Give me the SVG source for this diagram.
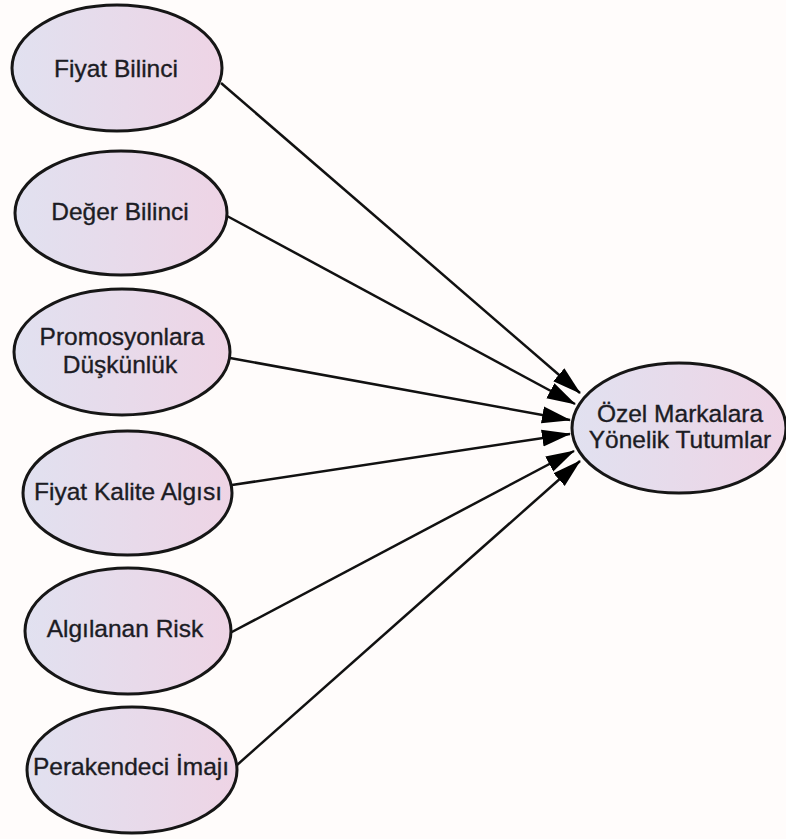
<svg xmlns="http://www.w3.org/2000/svg" width="786" height="839" viewBox="0 0 786 839">
  <defs>
    <linearGradient id="fillGrad" x1="0" y1="0" x2="1" y2="0">
      <stop offset="0" stop-color="#e1e1f0"/>
      <stop offset="1" stop-color="#eed4e5"/>
    </linearGradient>
    <marker id="arrow" markerUnits="userSpaceOnUse" markerWidth="29" markerHeight="18" refX="28" refY="9" orient="auto">
      <path d="M0,0.5 L29,9 L0,17.5 z" fill="#000"/>
    </marker>
  </defs>
  <style>
    .node ellipse { fill: url(#fillGrad); stroke: #161616; stroke-width: 3; }
    .node text { font-family: "Liberation Sans", Arial, sans-serif; font-size: 24.5px; fill: #1c1c24; stroke: #1c1c24; stroke-width: 0.35; text-anchor: middle; }
    .edge { stroke: #111; stroke-width: 2.5; fill: none; marker-end: url(#arrow); }
  </style>
  <rect x="0" y="0" width="786" height="839" fill="#fffcfb"/>

  <g id="connectors">
    <path class="edge" d="M221,83 L580,393"/>
    <path class="edge" d="M227,216 L575,404"/>
    <path class="edge" d="M230,358 L570,420"/>
    <path class="edge" d="M232,485 L570,434"/>
    <path class="edge" d="M230,633 L574,451"/>
    <path class="edge" d="M237,765 L580,461"/>
  </g>

  <g id="fiyat-bilinci" class="node">
    <ellipse cx="117" cy="68" rx="105" ry="63"/>
    <text x="116" y="77">Fiyat Bilinci</text>
  </g>
  <g id="deger-bilinci" class="node">
    <ellipse cx="121" cy="213" rx="106" ry="62"/>
    <text x="120" y="220">Değer Bilinci</text>
  </g>
  <g id="promosyonlara-duskunluk" class="node">
    <ellipse cx="122" cy="352" rx="108" ry="63"/>
    <text x="122" y="345">Promosyonlara</text>
    <text x="120" y="373">Düşkünlük</text>
  </g>
  <g id="fiyat-kalite-algisi" class="node">
    <ellipse cx="127.5" cy="493" rx="104.5" ry="62"/>
    <text x="128" y="500">Fiyat Kalite Algısı</text>
  </g>
  <g id="algilanan-risk" class="node">
    <ellipse cx="128" cy="631" rx="103" ry="63"/>
    <text x="125" y="637">Algılanan Risk</text>
  </g>
  <g id="perakendeci-imaji" class="node">
    <ellipse cx="132" cy="770" rx="105" ry="63"/>
    <text x="131" y="775">Perakendeci İmajı</text>
  </g>
  <g id="ozel-markalara" class="node">
    <ellipse cx="679" cy="428" rx="107" ry="65"/>
    <text x="680" y="422">Özel Markalara</text>
    <text x="680" y="448">Yönelik Tutumlar</text>
  </g>
</svg>
